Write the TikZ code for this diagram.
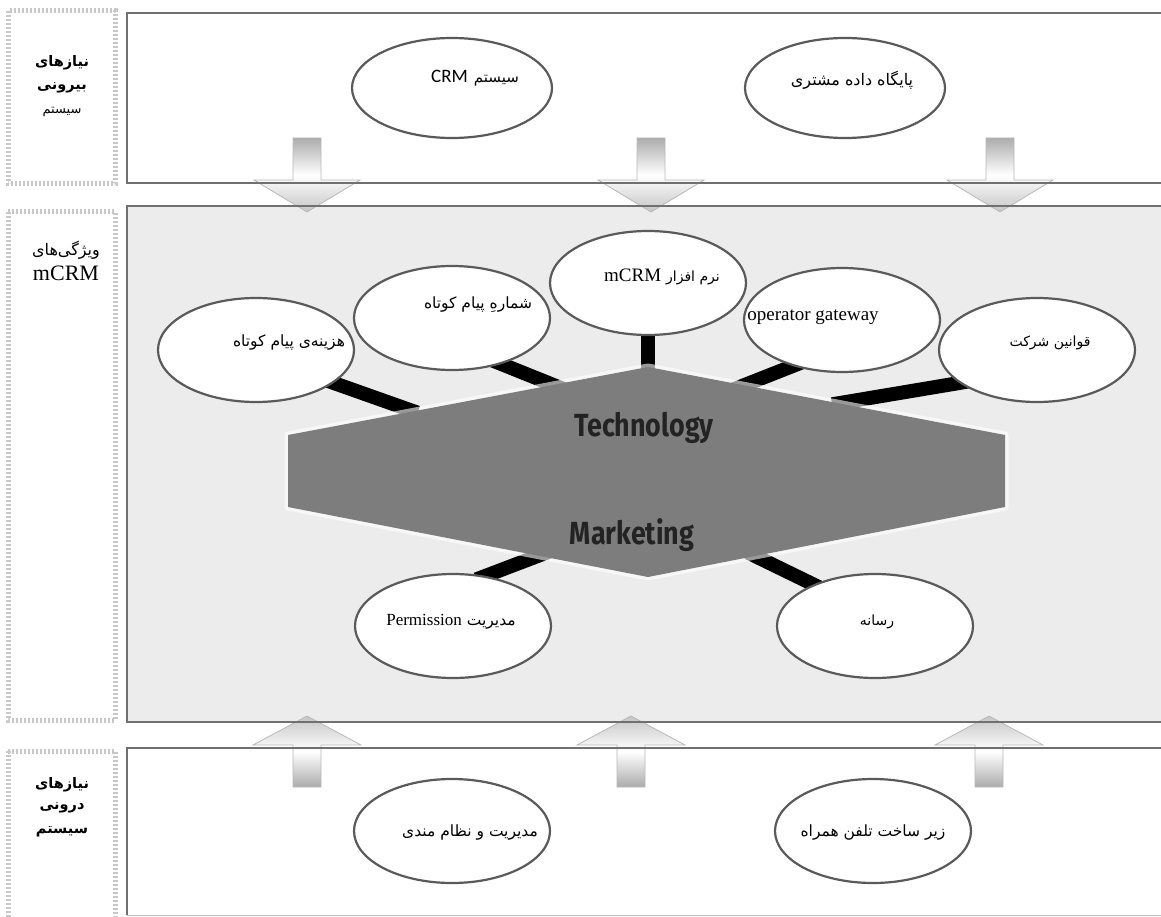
\documentclass[tikz,border=0pt]{standalone}
\usepackage{fontspec}
\setmainfont{Liberation Serif}
\newfontfamily\fa[Script=Arabic]{DejaVu Sans}
\newfontfamily\calfont{Carlito}
\newfontfamily\techfont{Fira Sans}
\usetikzlibrary{shapes.geometric}
\TeXXeTstate=1
\pgfdeclarelayer{back}
\pgfdeclarelayer{mid}
\pgfsetlayers{back,mid,main}
\definecolor{panelgray}{RGB}{236,236,236}
\definecolor{bordergray}{RGB}{112,112,112}
\definecolor{hexgray}{RGB}{125,125,125}
\definecolor{ellgray}{RGB}{90,90,90}
\definecolor{boxgray}{RGB}{200,200,200}
\definecolor{techtext}{RGB}{35,35,35}
\newcommand\fsz[1]{\fontsize{#1}{#1}\selectfont}
\tikzset{
  ell/.style={ellipse, draw=ellgray, line width=2.2pt, fill=white, minimum width=196pt, minimum height=104pt, inner sep=0pt},
  topell/.style={ell, minimum width=200pt, minimum height=100pt},
  conn/.style={line width=14pt, black, shorten <=-10pt, shorten >=-8pt},
  panelline/.style={draw=bordergray, line width=2.5pt},
  labbox/.style={draw=boxgray, line width=5pt, dash pattern=on 2pt off 2pt},
  txt/.style={inner sep=0pt, text=black},
  fatxt/.style={txt, font=\fa\fsz{15.5}},
  downarrow/.style={top color=gray!65, bottom color=gray!45, middle color=white, draw=gray!55, line width=0.8pt},
  uparrow/.style={top color=gray!45, bottom color=gray!65, middle color=white, draw=gray!55, line width=0.8pt},
}
\begin{document}
\begin{tikzpicture}[x=1pt,y=-1pt]
\useasboundingbox (0,0) rectangle (1161,917);

% ---------- panels (background) ----------
\begin{pgfonlayer}{back}
  \fill[white] (0,0) rectangle (1161,917);
  \fill[panelgray] (127,206) rectangle (1161,722);
  % label boxes
  \draw[labbox] (8,11) rectangle (115,184);
  \draw[labbox] (8,212) rectangle (115,720);
  \draw[labbox] (8,751) rectangle (115,935);
  % arrows
  \foreach \x in {307,651,1000}{
    \shade[downarrow] (\x-14,138) -- (\x+14,138) -- (\x+14,180) -- (\x+53,180) -- (\x,212) -- (\x-53,180) -- (\x-14,180) -- cycle;
  }
  \foreach \x in {307,631,989}{
    \shade[uparrow] (\x-14,787) -- (\x+14,787) -- (\x+14,745) -- (\x+54,745) -- (\x,716) -- (\x-54,745) -- (\x-14,745) -- cycle;
  }
  % panel borders
  \draw[panelline] (1165,13) -- (127,13) -- (127,183) -- (1165,183);
  \draw[panelline] (1165,206) -- (127,206) -- (127,722) -- (1165,722);
  \draw[panelline] (1165,748) -- (127,748) -- (127,915);
  \draw[gray!50, line width=1pt] (127,915) -- (1165,915);
\end{pgfonlayer}

% ---------- left labels ----------
\node[txt] (l1a) at (62,63) {\fa\bfseries\fsz{14.5}نیازهای};
\node[txt] (l1b) at (62,88) {\fa\bfseries\fsz{14.5}بیرونی};
\node[txt] (l1c) at (62,112) {\fa\fsz{13}سیستم};
\node[txt] (l2a) at (66,250) {\fa\fsz{16}ویژگی‌های};
\node[txt] (l2b) at (66,273) {\fsz{22}mCRM};
\node[txt] (l3a) at (62,785) {\fa\bfseries\fsz{14.5}نیازهای};
\node[txt] (l3b) at (62,808) {\fa\bfseries\fsz{14.5}درونی};
\node[txt] (l3c) at (62,832) {\fa\bfseries\fsz{14.5}سیستم};

% ---------- top ellipses ----------
\node[topell] (t1) at (452,88) {};
\node[txt] (t1t) at (475,78) {{\calfont\fsz{19}CRM}\hspace{6pt}{\fa\fsz{15}سیستم}};
\node[topell] (t2) at (845,88) {};
\node[txt] (t2t) at (852,80) {\fa\fsz{16}\beginR پایگاه داده مشتری\endR};

% ---------- hexagon ----------
\coordinate (hx1) at (288,435);
\coordinate (hx2) at (648,367);
\coordinate (hx3) at (1005,435);
\coordinate (hx4) at (1005,507);
\coordinate (hx5) at (648,577);
\coordinate (hx6) at (288,507);
\draw[white, line width=7pt, opacity=0.6, line join=round] (hx1) -- (hx2) -- (hx3) -- (hx4) -- (hx5) -- (hx6) -- cycle;
\fill[hexgray] (hx1) -- (hx2) -- (hx3) -- (hx4) -- (hx5) -- (hx6) -- cycle;
\node[txt, text=techtext] (tech) at (644,428) {\techfont\bfseries\fsz{32}\scalebox{0.84}[1]{Technology}};
\node[txt, text=techtext] (mark) at (632,535) {\techfont\bfseries\fsz{32}\scalebox{0.84}[1]{Marketing}};

% attachment points on hexagon
\coordinate (h1) at (410,410);
\coordinate (h2) at (556,386);
\coordinate (h3) at (648,372);
\coordinate (h4) at (737,388);
\coordinate (h5) at (840,403);
\coordinate (h6) at (543,554);
\coordinate (h7) at (755,556);

% ---------- middle ellipses ----------
\node[ell] (e1) at (256,350) {};
\node[fatxt] (e1t) at (289,343) {\beginR هزینه‌ی پیام کوتاه\endR};
\node[ell] (e2) at (452,318) {};
\node[fatxt] (e2t) at (478,305) {\beginR شمارهِ پیام کوتاه\endR};
\node[ell] (e3) at (648,283) {};
\node[txt] (e3t) at (662,277) {{\fsz{19}mCRM}\hspace{5pt}{\fa\fsz{14}\beginR نرم افزار\endR}};
\node[ell] (e4) at (842,320) {};
\node[txt] (e4t) at (813,317) {\fsz{19}operator gateway};
\node[ell] (e5) at (1037,350) {};
\node[txt] (e5t) at (1050,343) {\fa\fsz{14}\beginR قوانین شرکت\endR};
\node[ell] (e6) at (453,626) {};
\node[txt] (e6t) at (451,622) {{\fsz{17}Permission}\hspace{5pt}{\fa\fsz{15.5}مدیریت}};
\node[ell] (e7) at (875,626) {};
\node[txt] (e7t) at (877,622) {\fa\fsz{14}رسانه};

% ---------- bottom ellipses ----------
\node[ell] (e8) at (452,831) {};
\node[fatxt] (e8t) at (470,832) {\beginR مدیریت و نظام مندی\endR};
\node[ell] (e9) at (873,831) {};
\node[fatxt] (e9t) at (873,832) {\beginR زیر ساخت تلفن همراه\endR};

% ---------- connectors ----------
\begin{pgfonlayer}{mid}
  \draw[conn] (e1.337) -- (h1);
  \draw[conn] (e2.317) -- (h2);
  \draw[conn] (e3.south) -- (h3);
  \draw[conn] (e4.223) -- (h4);
  \draw[conn] (e5.203) -- (h5);
  \draw[conn] (e6.57) -- (h6);
  \draw[conn] (e7.146) -- (h7);
\end{pgfonlayer}
\end{tikzpicture}
\end{document}
